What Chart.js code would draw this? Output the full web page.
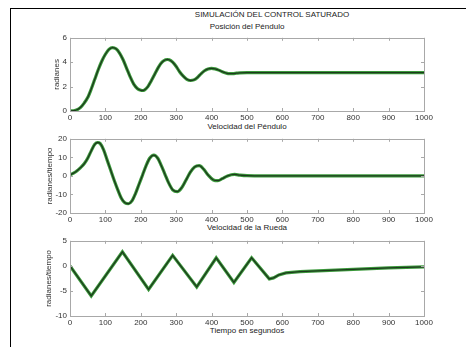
<!DOCTYPE html>
<html lang="es">
<head>
<meta charset="UTF-8">
<script src="https://cdn.jsdelivr.net/npm/chart.js@4.4.0/dist/chart.umd.min.js"></script>
<style>
  body { margin: 0; background: #fff; width: 466px; height: 347px; overflow: hidden; position: relative; font-family: "Liberation Sans", Arial, sans-serif; }
  .frame { position: absolute; left: 10px; top: 8px; width: 460px; height: 350px; border-top: 1.5px solid #000; border-left: 1.5px solid #000; }
  canvas { position: absolute; left: 0; }
  .lbl { position: absolute; font-size: 8px; line-height: 8px; color: #222; white-space: nowrap; transform: translateX(-50%); }
</style>
</head>
<body>
<div class="frame"></div>
<div class="lbl" style="left:272px;top:11px">SIMULACIÓN DEL CONTROL SATURADO</div>
<div class="lbl" style="left:247px;top:23px">Posición del Péndulo</div>
<div class="lbl" style="left:247px;top:123px">Velocidad del Péndulo</div>
<div class="lbl" style="left:247px;top:224px">Velocidad de la Rueda</div>
<div class="lbl" style="left:247px;top:327px">Tiempo en segundos</div>
<canvas id="c1" width="466" height="95" style="top:30px"></canvas>
<canvas id="c2" width="466" height="96" style="top:131px"></canvas>
<canvas id="c3" width="466" height="97" style="top:233px"></canvas>
<script>
// values
const posT = [0, 10, 20, 30, 40, 50, 60, 70, 80, 90, 100, 110, 120, 130, 140, 150, 160, 170, 180, 190, 200, 205, 210, 220, 230, 240, 250, 260, 270, 275, 280, 290, 300, 310, 320, 330, 340, 350, 360, 370, 380, 390, 400, 410, 420, 430, 440, 450, 460, 470, 480, 500, 1000];
const posY = [0, 0.02, 0.1, 0.3, 0.65, 1.1, 1.8, 2.6, 3.4, 4.1, 4.65, 5.05, 5.2, 5.1, 4.75, 4.2, 3.5, 2.8, 2.2, 1.85, 1.7, 1.68, 1.72, 2.0, 2.5, 3.05, 3.6, 4.0, 4.2, 4.22, 4.2, 4.0, 3.65, 3.2, 2.85, 2.6, 2.5, 2.55, 2.75, 3.05, 3.3, 3.45, 3.5, 3.45, 3.35, 3.22, 3.12, 3.06, 3.07, 3.1, 3.13, 3.14, 3.14];

const velT = [0, 10, 20, 30, 40, 50, 60, 70, 78, 85, 95, 105, 115, 125, 135, 145, 155, 165, 175, 185, 195, 205, 215, 225, 237, 248, 258, 268, 278, 290, 303, 315, 327, 340, 352, 365, 378, 390, 405, 418, 430, 445, 465, 480, 500, 550, 1000];
const velY = [0.5, 1.5, 2.8, 4.5, 6.5, 9.5, 13.5, 17, 18, 17.5, 14, 8.5, 3, -2.5, -7.5, -12, -14.5, -15, -13.5, -9.5, -4.5, 0.5, 5.5, 9.5, 11.2, 9.5, 5.5, 1, -3.5, -7.5, -8.5, -6.5, -2.5, 2, 4.8, 5.5, 3.5, 0.5, -2.2, -2.6, -1.5, 0, 0.8, 0.4, 0.1, 0, 0];

const ruedaT = [0, 60, 148, 222, 290, 358, 413, 463, 513, 563, 575, 590, 610, 650, 700, 750, 800, 850, 900, 950, 1000];
const ruedaY = [0, -6, 2.8, -4.7, 2.1, -4.2, 1.6, -3.3, 1.6, -2.6, -2.4, -1.8, -1.4, -1.15, -1.0, -0.85, -0.7, -0.55, -0.4, -0.3, -0.2];

const xTicks = [0, 100, 200, 300, 400, 500, 600, 700, 800, 900, 1000];
const posTicks = [0, 2, 4, 6];
const velTicks = [-20, -10, 0, 10, 20];
const ruedaTicks = [-10, -5, 0, 5];

const FONT = { family: '"Liberation Sans", Arial, sans-serif', size: 8 };
const AXIS = '#a8a8a8';

function pts(t, y) { return t.map((v, i) => ({ x: v, y: y[i] })); }

// matlab style box with inward ticks
const boxTicks = {
  id: 'boxTicks',
  afterDraw(chart) {
    const { ctx, chartArea: a, scales } = chart;
    ctx.save();
    ctx.strokeStyle = AXIS;
    ctx.lineWidth = 1;
    ctx.strokeRect(Math.round(a.left) + 0.5, Math.round(a.top) + 0.5, Math.round(a.right - a.left), Math.round(a.bottom - a.top));
    ctx.beginPath();
    scales.x.ticks.forEach(tk => {
      const px = Math.round(scales.x.getPixelForValue(tk.value)) + 0.5;
      ctx.moveTo(px, a.bottom); ctx.lineTo(px, a.bottom - 3);
      ctx.moveTo(px, a.top); ctx.lineTo(px, a.top + 3);
    });
    scales.y.ticks.forEach(tk => {
      const py = Math.round(scales.y.getPixelForValue(tk.value)) + 0.5;
      ctx.moveTo(a.left, py); ctx.lineTo(a.left + 3, py);
      ctx.moveTo(a.right, py); ctx.lineTo(a.right - 3, py);
    });
    ctx.stroke();
    ctx.restore();
  }
};

function makePlot(id, t, y, yTicks, yTitle, padLeft, smooth) {
  const data = pts(t, y);
  const line = (color, w, order) => ({
    data: data, borderColor: color, borderWidth: w, pointRadius: 0, order: order,
    tension: smooth ? 0.4 : 0, cubicInterpolationMode: smooth ? 'monotone' : 'default', fill: false
  });
  new Chart(document.getElementById(id), {
    type: 'line',
    data: { datasets: [line('#3c9a3c', 3.2, 2), line('#1c3a1c', 1.3, 1)] },
    options: {
      responsive: false, animation: false, devicePixelRatio: 1,
      layout: { padding: { left: padLeft, right: 42, top: 5, bottom: 0 } },
      plugins: { legend: { display: false }, tooltip: { enabled: false } },
      scales: {
        x: {
          type: 'linear', min: 0, max: 1000,
          grid: { display: false, drawTicks: false }, border: { display: false },
          afterBuildTicks: s => { s.ticks = xTicks.map(v => ({ value: v })); },
          afterFit: s => { s.height = 14; },
          ticks: { font: FONT, color: '#333', padding: 2, maxRotation: 0, autoSkip: false, callback: v => String(v) }
        },
        y: {
          min: yTicks[0], max: yTicks[yTicks.length - 1],
          grid: { display: false, drawTicks: false }, border: { display: false },
          afterBuildTicks: s => { s.ticks = yTicks.map(v => ({ value: v })); },
          afterFit: s => { s.width = 70 - padLeft; },
          ticks: { font: FONT, color: '#333', padding: 3, autoSkip: false, callback: v => String(v) },
          title: { display: true, text: yTitle, font: FONT, color: '#333', padding: 0 }
        }
      }
    },
    plugins: [boxTicks]
  });
}

makePlot('c1', posT, posY, posTicks, 'radianes', 52, true);
makePlot('c2', velT, velY, velTicks, 'radianes/tiempo', 45, true);
makePlot('c3', ruedaT, ruedaY, ruedaTicks, 'radianes/tiempo', 44, false);
</script>
</body>
</html>
